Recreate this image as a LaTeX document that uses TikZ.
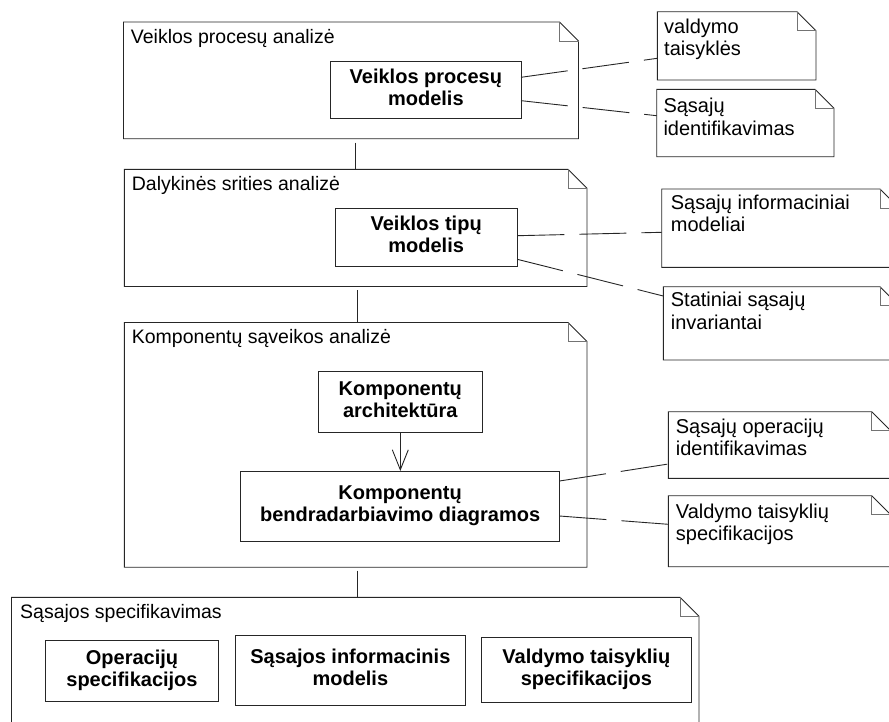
\documentclass[tikz,border=0pt]{standalone}
\usepackage{fontspec}
\setmainfont{Liberation Sans}
\usetikzlibrary{arrows.meta}

% left-aligned lines whose first baseline is the node's base
\newcommand{\notelines}[1]{\begin{tabular}[t]{@{}l@{}}#1\end{tabular}}
% centred lines raised by a given amount inside a box
\newcommand{\liftlines}[2]{\raisebox{#1}{\begin{tabular}{@{}c@{}}#2\end{tabular}}}
% outline with a folded top-right corner around a named node
\newcommand{\foldframe}[1]{%
  \draw[outline] (#1.south west) -- (#1.north west) -- ([xshift=-19pt]#1.north east)
    -- ([yshift=-19pt]#1.north east) -- (#1.south east) -- cycle;
  \draw[fold] ([xshift=-19pt]#1.north east) |- ([yshift=-19pt]#1.north east);
}

\begin{document}
\begin{tikzpicture}[x=1pt,y=-1pt,
  outline/.style={draw=black!85, line width=0.9pt},
  fold/.style={draw=black!55, line width=0.9pt},
  frame/.style={rectangle, inner sep=0pt, outer sep=0pt, anchor=north west},
  box/.style={rectangle, draw=black!85, line width=0.9pt, inner sep=0pt, outer sep=0pt,
    anchor=north west, font=\fontsize{20}{22}\selectfont\bfseries},
  title/.style={anchor=base west, inner sep=0pt, font=\fontsize{19.5}{22.5}\selectfont},
  notetext/.style={anchor=base west, inner sep=0pt, font=\fontsize{20}{22.5}\selectfont},
  link/.style={draw=black!85, line width=0.9pt, dash pattern=on 47pt off 15pt},
  flow/.style={draw=black!85, line width=0.9pt},
]
\useasboundingbox (0,0) rectangle (889,721);
\clip (0,0) rectangle (889,721);

% packages
\node[frame, minimum width=455, minimum height=116.7] (P1) at (123.5,22) {};
\node[frame, minimum width=462.7, minimum height=117.2] (P2) at (124.3,169.3) {};
\node[frame, minimum width=462.7, minimum height=244.7] (P3) at (124.3,322.5) {};
\node[frame, minimum width=687.5, minimum height=160] (P4) at (11.5,597.3) {};
\foldframe{P1}
\foldframe{P2}
\foldframe{P3}
\foldframe{P4}

\node[title] (T1) at (130.7,43.3) {Veiklos procesų analizė};
\node[title] (T2) at (131.7,190.5) {Dalykinės srities analizė};
\node[title] (T3) at (131.7,343.3) {Komponentų sąveikos analizė};
\node[title] (T4) at (20,618) {Sąsajos specifikavimas};

% model boxes
\node[box, minimum width=190.3, minimum height=57.3] (B1) at (330.7,61) {\liftlines{1pt}{Veiklos procesų\\modelis}};
\node[box, minimum width=182.3, minimum height=58.4] (B2) at (335,208.3) {\liftlines{0pt}{Veiklos tipų\\modelis}};
\node[box, minimum width=164, minimum height=61.7] (B3) at (318.3,371) {\liftlines{2pt}{Komponentų\\architektūra}};
\node[box, minimum width=318.8, minimum height=70.3] (B4) at (240.7,471) {\liftlines{4pt}{Komponentų\\bendradarbiavimo diagramos}};
\node[box, minimum width=172.6, minimum height=61.7] (B5) at (45.7,640) {\liftlines{5pt}{Operacijų\\specifikacijos}};
\node[box, minimum width=230.7, minimum height=69.3] (B6) at (235,635.7) {\liftlines{10pt}{Sąsajos informacinis\\modelis}};
\node[box, minimum width=209.3, minimum height=64.6] (B7) at (481.7,637.7) {\liftlines{5pt}{Valdymo taisyklių\\specifikacijos}};

% notes
\node[frame, minimum width=158.7, minimum height=68.3] (N1) at (657.3,11.7) {};
\node[frame, minimum width=177.3, minimum height=67.4] (N2) at (656.7,89.3) {};
\node[frame, minimum width=237.3, minimum height=78.3] (N3) at (661.7,189) {};
\node[frame, minimum width=235.7, minimum height=73.3] (N4) at (663.3,286.7) {};
\node[frame, minimum width=222.4, minimum height=66.6] (N5) at (668.3,411.7) {};
\node[frame, minimum width=222.4, minimum height=71] (N6) at (668.3,495.7) {};
\foldframe{N1}
\foldframe{N2}
\foldframe{N3}
\foldframe{N4}
\foldframe{N5}
\foldframe{N6}

\node[notetext] (N1t) at (664,33.3) {\notelines{valdymo\\taisyklės}};
\node[notetext] (N2t) at (663.3,112.7) {\notelines{Sąsajų\\identifikavimas}};
\node[notetext] (N3t) at (670.7,209) {\notelines{Sąsajų informaciniai\\modeliai}};
\node[notetext] (N4t) at (670.7,306.7) {\notelines{Statiniai sąsajų\\invariantai}};
\node[notetext] (N5t) at (675.7,433.3) {\notelines{Sąsajų operacijų\\identifikavimas}};
\node[notetext] (N6t) at (675.7,518.3) {\notelines{Valdymo taisyklių\\specifikacijos}};

% links from models to notes
\draw[link] ([yshift=12.35pt]B1.east) -- ([yshift=-12.45pt]N1.west);
\draw[link] ([yshift=-11pt]B1.east) -- ([yshift=7.3pt]N2.west);
\draw[link] ([yshift=1.8pt]B2.east) -- ([yshift=-4.15pt]N3.west);
\draw[link] ([yshift=-21.8pt]B2.east) -- ([yshift=27.35pt]N4.west);
\draw[link] ([yshift=25.15pt]B4.east) -- ([yshift=-19pt]N5.west);
\draw[link] ([yshift=-9.85pt]B4.east) -- ([yshift=6.9pt]N6.west);

% dependency arrow
\draw[flow, -{Straight Barb[length=20pt,width=16pt]}] (B3.south) -- (B3.south |- B4.north);

% links between packages
\coordinate (c12) at (355,142.7);
\coordinate (c23) at (357.3,290);
\coordinate (c34) at (357.3,570.5);
\draw[flow] (c12) -- (c12 |- P2.north);
\draw[flow] (c23) -- (c23 |- P3.north);
\draw[flow] (c34) -- (c34 |- P4.north);
\end{tikzpicture}
\end{document}
